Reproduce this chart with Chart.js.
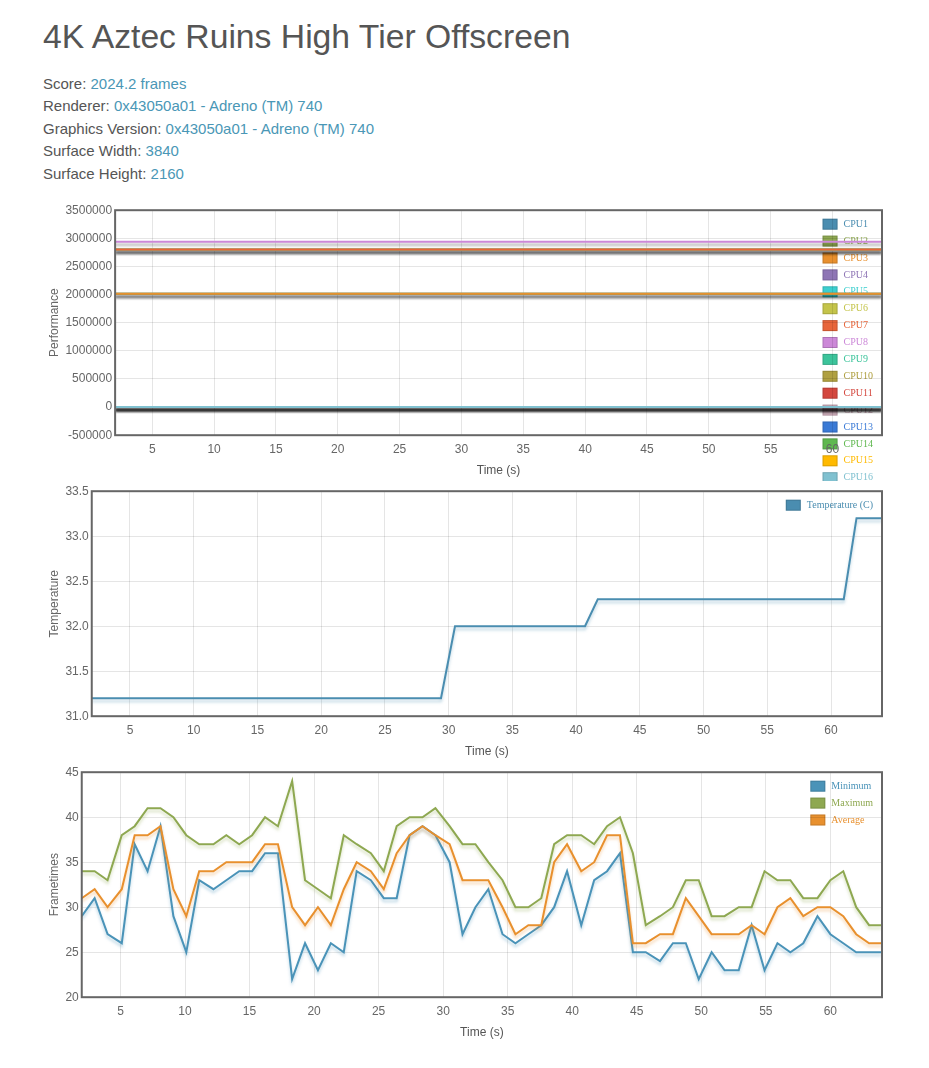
<!DOCTYPE html>
<html>
<head>
<meta charset="utf-8">
<title>4K Aztec Ruins High Tier Offscreen</title>
<script src="https://cdn.jsdelivr.net/npm/chart.js@4.4.1/dist/chart.umd.min.js"></script>
<style>
    body { margin: 0; background: #fff; font-family: "Liberation Sans", Arial, sans-serif; color: #555; }
    .page { padding: 18px 0 0 43px; }
    h1 { margin: 0 0 19px 0; font-size: 33.7px; line-height: 36px; font-weight: normal; color: #555; }
    .info div { font-size: 15px; line-height: 22.4px; }
    .info span { color: #4a97b6; }
    .charts { margin-top: 15px; }
    .box { position: relative; width: 843px; height: 281px; }
</style>
</head>
<body>
<div class="page">
    <h1>4K Aztec Ruins High Tier Offscreen</h1>
    <div class="info">
        <div>Score: <span>2024.2 frames</span></div>
        <div>Renderer: <span>0x43050a01 - Adreno (TM) 740</span></div>
        <div>Graphics Version: <span>0x43050a01 - Adreno (TM) 740</span></div>
        <div>Surface Width: <span>3840</span></div>
        <div>Surface Height: <span>2160</span></div>
    </div>
    <div class="charts">
        <div class="box"><canvas id="cpu-chart"></canvas></div>
        <div class="box"><canvas id="temp-chart"></canvas></div>
        <div class="box"><canvas id="frame-chart"></canvas></div>
    </div>
</div>
<script>
// sample times in seconds
const times = [2.0, 3.0, 4.0, 5.1, 6.1, 7.1, 8.1, 9.1, 10.1, 11.1,
    12.2, 13.2, 14.2, 15.2, 16.2, 17.2, 18.3, 19.3, 20.3, 21.3,
    22.3, 23.3, 24.4, 25.4, 26.4, 27.4, 28.4, 29.4, 30.5, 31.5,
    32.5, 33.5, 34.6, 35.6, 36.6, 37.6, 38.6, 39.6, 40.7, 41.7,
    42.7, 43.7, 44.7, 45.7, 46.8, 47.8, 48.8, 49.8, 50.8, 51.8,
    52.9, 53.9, 54.9, 55.9, 56.9, 57.9, 59.0, 60.0, 61.0, 62.0,
    63.0, 64.0];

// CPU frequencies stay flat for the whole run
const cpuLabels = ['CPU1', 'CPU2', 'CPU3', 'CPU4', 'CPU5', 'CPU6', 'CPU7', 'CPU8',
    'CPU9', 'CPU10', 'CPU11', 'CPU12', 'CPU13', 'CPU14', 'CPU15', 'CPU16'];
const cpuLevels = [2016000, 2016000, 2016000, 2803200, 2803200, 2803200, 2803200, 2937600,
    0, 0, 0, 0, 0, 0, 0, 0];
const cpuColors = ['#4a8db0', '#8ea851', '#e8902e', '#8e75b5', '#3ccfcf', '#c4c44a', '#e8653a', '#cc88d8',
    '#3cc49b', '#b0a040', '#d4473e', '#ccaab8', '#3a7ad6', '#5fb84f', '#ffba00', '#80c1d0'];

const temperature = [31.2, 31.2, 31.2, 31.2, 31.2, 31.2, 31.2, 31.2, 31.2, 31.2,
    31.2, 31.2, 31.2, 31.2, 31.2, 31.2, 31.2, 31.2, 31.2, 31.2,
    31.2, 31.2, 31.2, 31.2, 31.2, 31.2, 31.2, 31.2, 32.0, 32.0,
    32.0, 32.0, 32.0, 32.0, 32.0, 32.0, 32.0, 32.0, 32.0, 32.3,
    32.3, 32.3, 32.3, 32.3, 32.3, 32.3, 32.3, 32.3, 32.3, 32.3,
    32.3, 32.3, 32.3, 32.3, 32.3, 32.3, 32.3, 32.3, 32.3, 33.2,
    33.2, 33.2];

const frameMin = [29, 31, 27, 26, 37, 34, 39, 29, 25, 33,
    32, 33, 34, 34, 36, 36, 22, 26, 23, 26,
    25, 34, 33, 31, 31, 38, 39, 38, 35, 27,
    30, 32, 27, 26, 27, 28, 30, 34, 28, 33,
    34, 36, 25, 25, 24, 26, 26, 22, 25, 23,
    23, 28, 23, 26, 25, 26, 29, 27, 26, 25,
    25, 25];
const frameMax = [34, 34, 33, 38, 39, 41, 41, 40, 38, 37,
    37, 38, 37, 38, 40, 39, 44, 33, 32, 31,
    38, 37, 36, 34, 39, 40, 40, 41, 39, 37,
    37, 35, 33, 30, 30, 31, 37, 38, 38, 37,
    39, 40, 36, 28, 29, 30, 33, 33, 29, 29,
    30, 30, 34, 33, 33, 31, 31, 33, 34, 30,
    28, 28];
const frameAvg = [31, 32, 30, 32, 38, 38, 39, 32, 29, 34,
    34, 35, 35, 35, 37, 37, 30, 28, 30, 28,
    32, 35, 34, 32, 36, 38, 39, 38, 37, 33,
    33, 33, 30, 27, 28, 28, 35, 37, 34, 35,
    38, 38, 26, 26, 27, 27, 31, 29, 27, 27,
    27, 28, 27, 30, 31, 29, 30, 30, 29, 27,
    26, 26];

function toPoints(values) {
    return times.map((t, i) => ({ x: t, y: values[i] }));
}

function withAlpha(hex, a) {
    const n = parseInt(hex.slice(1), 16);
    return `rgba(${(n >> 16) & 255}, ${(n >> 8) & 255}, ${n & 255}, ${a})`;
}

// legend sits inside the plot, under the lines and ticks
const sideLegend = {
    id: 'sideLegend',
    beforeDraw(chart) {
        const ctx = chart.ctx;
        const area = chart.chartArea;
        const sets = chart.data.datasets;
        ctx.save();
        ctx.font = '10px "Liberation Serif", "Times New Roman", serif';
        ctx.textBaseline = 'middle';
        const textW = Math.max(...sets.map(d => ctx.measureText(d.label).width));
        const left = area.right - 9 - textW - 21;
        sets.forEach((d, i) => {
            const y = area.top + 14 + i * 16.9;
            ctx.fillStyle = d.borderColor;
            ctx.fillRect(left, y - 5.5, 15, 11);
            ctx.strokeStyle = 'rgba(0, 0, 0, 0.15)';
            ctx.lineWidth = 1;
            ctx.strokeRect(left + 0.5, y - 5, 14, 10);
            ctx.fillText(d.label, left + 21, y);
        });
        ctx.restore();
    }
};

// dark frame round the plot area
const plotFrame = {
    id: 'plotFrame',
    afterDraw(chart) {
        const ctx = chart.ctx;
        const a = chart.chartArea;
        ctx.save();
        ctx.strokeStyle = '#666';
        ctx.lineWidth = 2;
        ctx.strokeRect(a.left, a.top, a.right - a.left, a.bottom - a.top);
        ctx.restore();
    }
};

// soft drop shadow under every line
const lineShadow = {
    id: 'lineShadow',
    beforeDatasetDraw(chart, args) {
        const ds = chart.data.datasets[args.index];
        const ctx = chart.ctx;
        ctx.save();
        ctx.shadowColor = ds.shadowColor || withAlpha(ds.borderColor, 0.35);
        ctx.shadowBlur = 3;
        ctx.shadowOffsetY = 3;
    },
    afterDatasetDraw(chart) {
        chart.ctx.restore();
    }
};

const tickFont = { family: '"Liberation Sans", Arial, sans-serif', size: 12 };

function makeOptions(yTitle, yMin, yMax, yStep, yFormat) {
    return {
        responsive: true,
        maintainAspectRatio: false,
        animation: false,
        layout: { padding: { left: 0, right: 4, top: 0, bottom: 0 } },
        elements: { point: { radius: 0 }, line: { borderWidth: 2, tension: 0 } },
        plugins: { legend: { display: false }, tooltip: { enabled: false } },
        scales: {
            x: {
                type: 'linear',
                min: times[0],
                max: times[times.length - 1],
                afterBuildTicks: axis => {
                    axis.ticks = axis.ticks.filter(t => t.value % 5 === 0);
                },
                ticks: { stepSize: 5, color: '#666', font: tickFont, padding: 7, maxRotation: 0 },
                grid: { color: 'rgba(0, 0, 0, 0.1)', drawTicks: false },
                border: { display: false },
                title: { display: true, text: 'Time (s)', color: '#555', font: tickFont, padding: { top: 0, bottom: 3 } }
            },
            y: {
                min: yMin,
                max: yMax,
                ticks: { stepSize: yStep, color: '#666', font: tickFont, padding: 3, callback: yFormat },
                grid: { color: 'rgba(0, 0, 0, 0.1)', drawTicks: false },
                border: { display: false },
                title: { display: true, text: yTitle, color: '#666', font: tickFont, padding: { top: 4, bottom: 1 } }
            }
        }
    };
}

// later datasets are painted on top, so the last CPU of each group shows
const cpuSets = cpuLabels.map((label, i) => ({
    label: label,
    data: toPoints(times.map(() => cpuLevels[i])),
    borderColor: cpuColors[i],
    backgroundColor: cpuColors[i],
    shadowColor: 'rgba(0, 0, 0, 0.35)',
    order: cpuLabels.length - i
}));

new Chart(document.getElementById('cpu-chart'), {
    type: 'line',
    data: { datasets: cpuSets },
    options: makeOptions('Performance', -500000, 3500000, 500000, v => v),
    plugins: [sideLegend, lineShadow, plotFrame]
});

new Chart(document.getElementById('temp-chart'), {
    type: 'line',
    data: {
        datasets: [{
            label: 'Temperature (C)',
            data: toPoints(temperature),
            borderColor: '#4a8db0',
            backgroundColor: '#4a8db0'
        }]
    },
    options: makeOptions('Temperature', 31, 33.5, 0.5, v => v.toFixed(1)),
    plugins: [sideLegend, lineShadow, plotFrame]
});

new Chart(document.getElementById('frame-chart'), {
    type: 'line',
    data: {
        datasets: [
            { label: 'Minimum', data: toPoints(frameMin), borderColor: '#4a93b8', backgroundColor: '#4a93b8', order: 3 },
            { label: 'Maximum', data: toPoints(frameMax), borderColor: '#8ea851', backgroundColor: '#8ea851', order: 2 },
            { label: 'Average', data: toPoints(frameAvg), borderColor: '#e8902e', backgroundColor: '#e8902e', order: 1 }
        ]
    },
    options: makeOptions('Frametimes', 20, 45, 5, v => v),
    plugins: [sideLegend, lineShadow, plotFrame]
});
</script>
</body>
</html>
